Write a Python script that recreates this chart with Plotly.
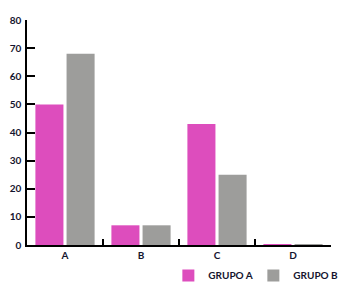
import plotly.graph_objects as go

categories = ["A", "B", "C", "D"]
grupo_a = [50, 7, 43, 0.15]
grupo_b = [68, 7, 25, 0.15]
series_names = ["GRUPO A", "GRUPO B"]
y_ticks = [0, 10, 20, 30, 40, 50, 60, 70, 80]

pink = "#DD4DBD"
gray = "#9D9D9B"
txt = "#14142e"
font_family = "Lato, 'Open Sans', sans-serif"

fig = go.Figure()
fig.add_trace(go.Bar(x=categories, y=grupo_a, name=series_names[0], marker=dict(color=pink, line=dict(width=0))))
fig.add_trace(go.Bar(x=categories, y=grupo_b, name=series_names[1], marker=dict(color=gray, line=dict(width=0))))

fig.update_layout(
    width=348, height=294,
    margin=dict(l=27, r=17, t=20, b=49, autoexpand=False),
    paper_bgcolor="white", plot_bgcolor="white",
    barmode="group", bargap=0.18, bargroupgap=0.1,
    font=dict(family=font_family, size=10, color=txt),
    showlegend=True,
    legend=dict(orientation="h", x=0.465, y=-0.135, xanchor="left", yanchor="middle",
                font=dict(size=10, family=font_family, color=txt, weight="bold"),
                itemwidth=30, entrywidth=40, entrywidthmode="pixels",
                tracegroupgap=0, bgcolor="rgba(0,0,0,0)"),
)
fig.update_xaxes(
    showline=True, linecolor="black", linewidth=1.5, automargin=False,
    ticks="inside", tickson="boundaries", ticklen=6, tickwidth=1.5, tickcolor="black",
    showgrid=False, tickfont=dict(size=10, family=font_family, color=txt, weight="bold"),
)
fig.update_yaxes(
    range=[0, 80], tickvals=y_ticks, showline=True, linecolor="black", linewidth=1.5,
    automargin=False, ticklabelstandoff=2,
    ticks="inside", ticklen=8, tickwidth=1.5, tickcolor="black",
    showgrid=False, zeroline=False,
    tickfont=dict(size=10, family=font_family, color=txt, weight="bold"),
)

fig.write_html("out.html", config={"displayModeBar": False},
               post_script="document.body.style.margin='0';document.body.style.padding='0';document.body.style.overflow='hidden';")
